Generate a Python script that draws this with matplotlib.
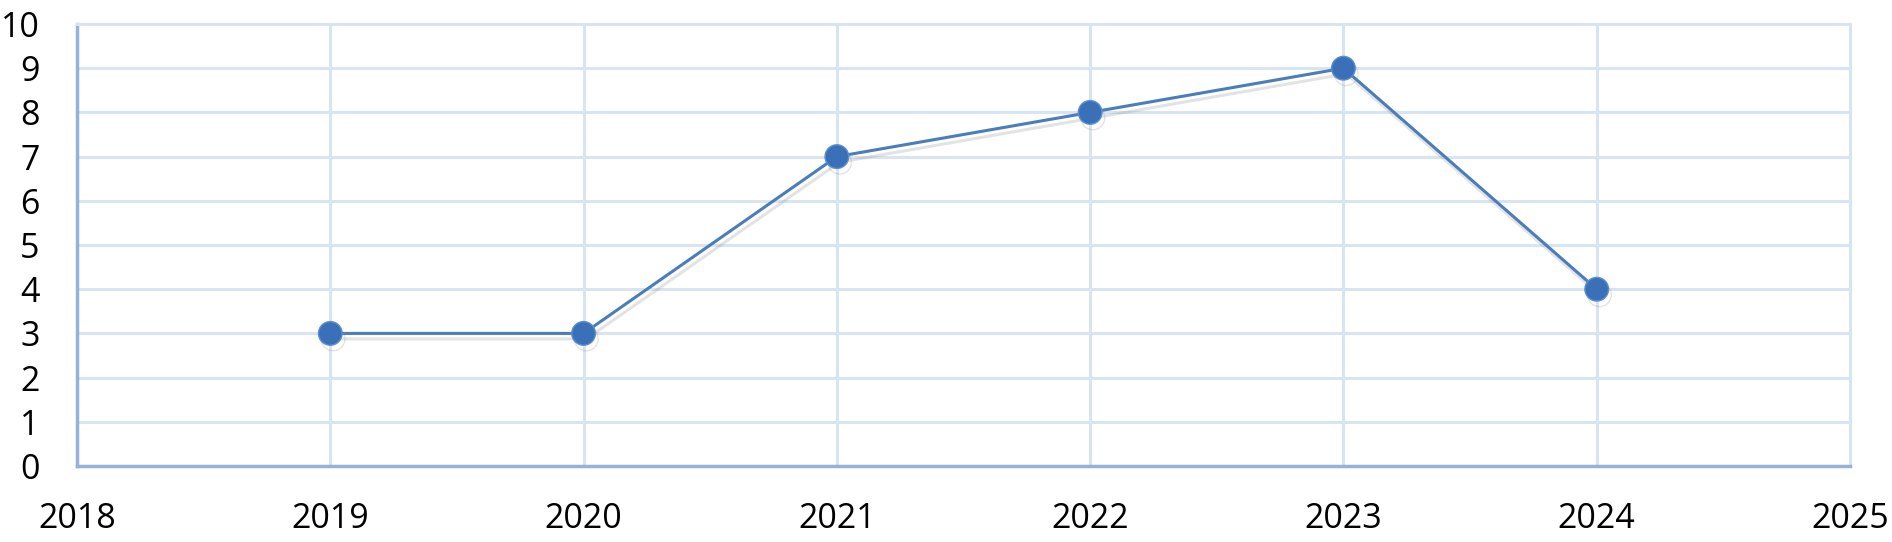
import matplotlib.pyplot as plt
import matplotlib.patheffects as pe

# data
years = [2019, 2020, 2021, 2022, 2023, 2024]
counts = [3, 3, 7, 8, 9, 4]
x_ticks = [2018, 2019, 2020, 2021, 2022, 2023, 2024, 2025]
y_ticks = list(range(0, 11))

plt.rcParams['font.family'] = ['Open Sans', 'DejaVu Sans']

fig = plt.figure(figsize=(18.92, 5.42), dpi=100)
ax = fig.add_axes([0.0407, 0.1402, 0.9371, 0.8155])

shadow = [pe.SimpleLineShadow(offset=(2, -4), shadow_color='gray', alpha=0.22), pe.Normal()]
ax.plot(years, counts, color='#4a7ebb', linewidth=2.2, marker='o', markersize=17,
        markerfacecolor='#3a70b8', markeredgecolor='#5b8fd0', markeredgewidth=1,
        path_effects=shadow, zorder=3, clip_on=False)

ax.set_xlim(2018, 2025)
ax.set_ylim(0, 10)
ax.set_xticks(x_ticks)
ax.set_yticks(y_ticks)
ax.grid(True, color='#d9e4f2', linewidth=2.2)
ax.set_axisbelow(True)

for side in ['top', 'right']:
    ax.spines[side].set_color('#d9e4f2')
    ax.spines[side].set_linewidth(2.2)
for side in ['left', 'bottom']:
    ax.spines[side].set_color('#95b3d7')
    ax.spines[side].set_linewidth(2.5)

ax.tick_params(axis='both', length=0, labelsize=24.5, colors='black')
ax.tick_params(axis='x', pad=26)
ax.tick_params(axis='y', pad=27)

plt.savefig('out.png', dpi=100)
